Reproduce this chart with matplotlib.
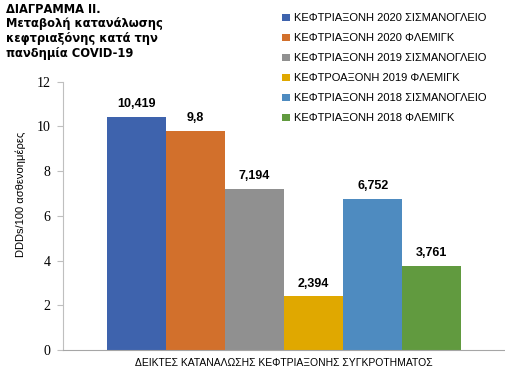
import matplotlib.pyplot as plt
import numpy as np

series = ['ΚΕΦΤΡΙΑΞΟΝΗ 2020 ΣΙΣΜΑΝΟΓΛΕΙΟ', 'ΚΕΦΤΡΙΑΞΟΝΗ 2020 ΦΛΕΜΙΓΚ',
          'ΚΕΦΤΡΙΑΞΟΝΗ 2019 ΣΙΣΜΑΝΟΓΛΕΙΟ', 'ΚΕΦΤΡΟΑΞΟΝΗ 2019 ΦΛΕΜΙΓΚ',
          'ΚΕΦΤΡΙΑΞΟΝΗ 2018 ΣΙΣΜΑΝΟΓΛΕΙΟ', 'ΚΕΦΤΡΙΑΞΟΝΗ 2018 ΦΛΕΜΙΓΚ']
values = [10.419, 9.8, 7.194, 2.394, 6.752, 3.761]
value_labels = ['10,419', '9,8', '7,194', '2,394', '6,752', '3,761']
category = 'ΔΕΙΚΤΕΣ ΚΑΤΑΝΑΛΩΣΗΣ ΚΕΦΤΡΙΑΞΟΝΗΣ ΣΥΓΚΡΟΤΗΜΑΤΟΣ'
colors = ['#3E63AD', '#D2702C', '#909090', '#E0A800', '#4E8BC0', '#619A3F']

plt.rcParams['font.family'] = ['Liberation Sans', 'DejaVu Sans']

fig = plt.figure(figsize=(5.05, 3.73), dpi=100)
ax = fig.add_axes([63/505, 23/373, 442/505, 268.3/373])

bw = 0.1338
offsets = (np.arange(len(values)) - 2.5) * bw
for i in range(len(values)):
    ax.bar(offsets[i], values[i], width=bw, color=colors[i], label=series[i])
    ax.text(offsets[i], values[i] + 0.3, value_labels[i], ha='center', va='bottom',
            fontsize=9, fontweight='bold')

ax.set_xlim(-0.5, 0.5)
ax.set_ylim(0, 12)
ax.set_yticks(range(0, 13, 2))
ax.set_xticks([0.0])
ax.set_xticklabels([category], fontsize=7.5)
ax.tick_params(axis='x', length=0, pad=6)
ax.tick_params(axis='y', length=4, color='#BFBFBF', pad=5)
for lab in ax.get_yticklabels():
    lab.set_family('Liberation Serif')
    lab.set_fontsize(10)
ax.spines['top'].set_visible(False)
ax.spines['right'].set_visible(False)
ax.spines['left'].set_color('#BFBFBF')
ax.spines['bottom'].set_color('#A6A6A6')
ax.set_ylabel('DDDs/100 ασθενοημέρες', fontsize=8)
ax.yaxis.set_label_coords(-0.083, 0.58)

fig.text(0.012, 0.993, 'ΔΙΑΓΡΑΜΜΑ ΙΙ.\nΜεταβολή κατανάλωσης\nκεφτριαξόνης κατά την\nπανδημία COVID-19',
         ha='left', va='top', fontsize=8.3, fontweight='bold', linespacing=1.18,
         family='DejaVu Sans')

fig.legend(loc='upper left', bbox_to_anchor=(278/505, 1 - 9/373), frameon=False,
           fontsize=8, handlelength=0.7, handleheight=0.7, handletextpad=0.3,
           labelspacing=0.9, borderaxespad=0)

plt.savefig('out.png')
